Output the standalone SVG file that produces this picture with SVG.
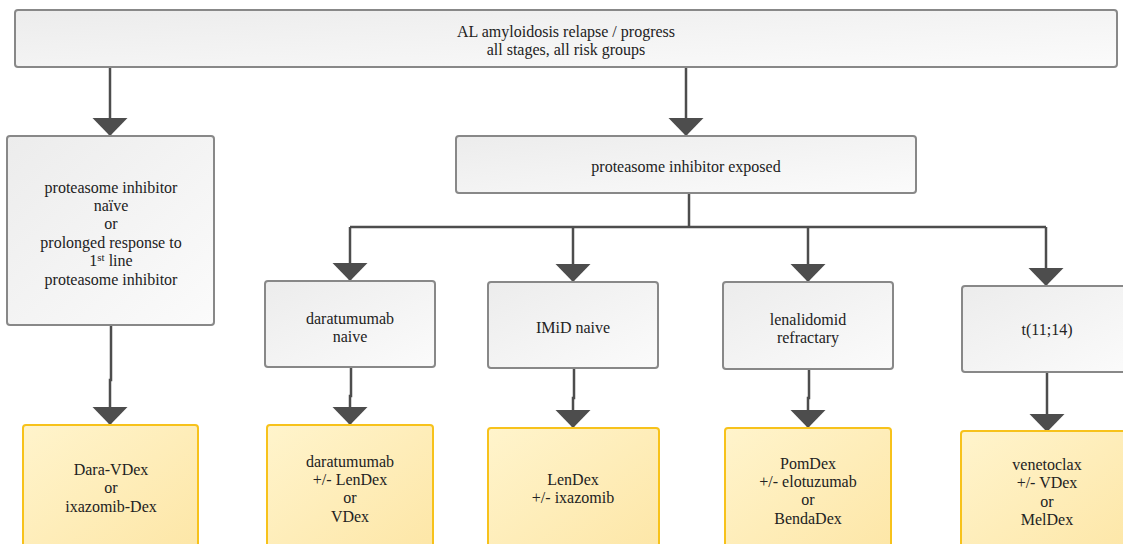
<svg xmlns="http://www.w3.org/2000/svg" width="1123" height="544" viewBox="0 0 1123 544">
<defs>
<linearGradient id="gGray" x1="0" y1="0" x2="1" y2="1">
<stop offset="0" stop-color="#ececec"/>
<stop offset="1" stop-color="#fbfbfb"/>
</linearGradient>
<linearGradient id="gYel" x1="0" y1="0" x2="1" y2="1">
<stop offset="0" stop-color="#fff4cc"/>
<stop offset="1" stop-color="#fde6a6"/>
</linearGradient>
<marker id="arr" markerUnits="userSpaceOnUse" markerWidth="20" markerHeight="36" refX="18" refY="17.5" orient="auto" viewBox="0 0 20 36">
<path d="M0,0 L18,17.5 L0,35 Z" fill="#4d4d4d"/>
</marker>
</defs>
<style>
.box{fill:url(#gGray);stroke:#888;stroke-width:2}
.res{fill:url(#gYel);stroke:#f7c21b;stroke-width:2}
.c{fill:none;stroke:#4d4d4d;stroke-width:2.5}
.ca{fill:none;stroke:#4d4d4d;stroke-width:2.5;marker-end:url(#arr)}
</style>
<g id="connectors">
<path class="ca" d="M110,67 V136"/>
<path class="ca" d="M686,67 V136"/>
<path class="c" d="M689,193 V227"/>
<path class="c" d="M350,227 H1046"/>
<path class="ca" d="M350,227 V281"/>
<path class="ca" d="M573,227 V282"/>
<path class="ca" d="M808,227 V282"/>
<path class="ca" d="M1046,227 V286"/>
<path class="ca" d="M111,325 V380 H110 V425"/>
<path class="ca" d="M351,367 V396 H350 V425"/>
<path class="ca" d="M574,368 V398 H573 V428"/>
<path class="ca" d="M809,369 V398 H808 V428"/>
<path class="ca" d="M1047,372 V432"/>
</g>
<g font-family="Liberation Serif, Times New Roman, serif" font-size="16" fill="#222" text-anchor="middle">
<g id="n-top">
<rect class="box" x="15" y="10" width="1102" height="57" rx="3"/>
<text x="566" y="37">AL amyloidosis relapse / progress</text>
<text x="566" y="55">all stages, all risk groups</text>
</g>
<g id="n-naive">
<rect class="box" x="7" y="136" width="207" height="189" rx="3"/>
<text x="111" y="193">proteasome inhibitor</text>
<text x="111" y="211">naïve</text>
<text x="111" y="229">or</text>
<text x="111" y="248">prolonged response to</text>
<text x="111" y="266">1<tspan font-size="11" dy="-5">st</tspan><tspan dy="5"> line</tspan></text>
<text x="111" y="285">proteasome inhibitor</text>
</g>
<g id="n-exposed">
<rect class="box" x="456" y="136" width="460" height="57" rx="3"/>
<text x="686" y="172">proteasome inhibitor exposed</text>
</g>
<g id="n-dara">
<rect class="box" x="265" y="281" width="170" height="86" rx="3"/>
<text x="350" y="324">daratumumab</text>
<text x="350" y="342">naive</text>
</g>
<g id="n-imid">
<rect class="box" x="488" y="282" width="170" height="86" rx="3"/>
<text x="573" y="333">IMiD naive</text>
</g>
<g id="n-lena">
<rect class="box" x="723" y="282" width="170" height="87" rx="3"/>
<text x="808" y="325">lenalidomid</text>
<text x="808" y="343">refractary</text>
</g>
<g id="n-t1114">
<rect class="box" x="962" y="286" width="170" height="86" rx="3"/>
<text x="1047" y="335">t(11;14)</text>
</g>
<g id="r-naive">
<rect class="res" x="23" y="425" width="175" height="130" rx="3"/>
<text x="111" y="475">Dara-VDex</text>
<text x="111" y="493">or</text>
<text x="111" y="512">ixazomib-Dex</text>
</g>
<g id="r-dara">
<rect class="res" x="267" y="425" width="166" height="130" rx="3"/>
<text x="350" y="467">daratumumab</text>
<text x="350" y="485">+/- LenDex</text>
<text x="350" y="503">or</text>
<text x="350" y="522">VDex</text>
</g>
<g id="r-imid">
<rect class="res" x="488" y="428" width="171" height="130" rx="3"/>
<text x="573" y="485">LenDex</text>
<text x="573" y="503">+/- ixazomib</text>
</g>
<g id="r-lena">
<rect class="res" x="725" y="428" width="166" height="130" rx="3"/>
<text x="808" y="469">PomDex</text>
<text x="808" y="487">+/- elotuzumab</text>
<text x="808" y="505">or</text>
<text x="808" y="524">BendaDex</text>
</g>
<g id="r-t1114">
<rect class="res" x="961" y="431" width="172" height="130" rx="3"/>
<text x="1047" y="470">venetoclax</text>
<text x="1047" y="488">+/- VDex</text>
<text x="1047" y="507">or</text>
<text x="1047" y="525">MelDex</text>
</g>
</g>
</svg>
